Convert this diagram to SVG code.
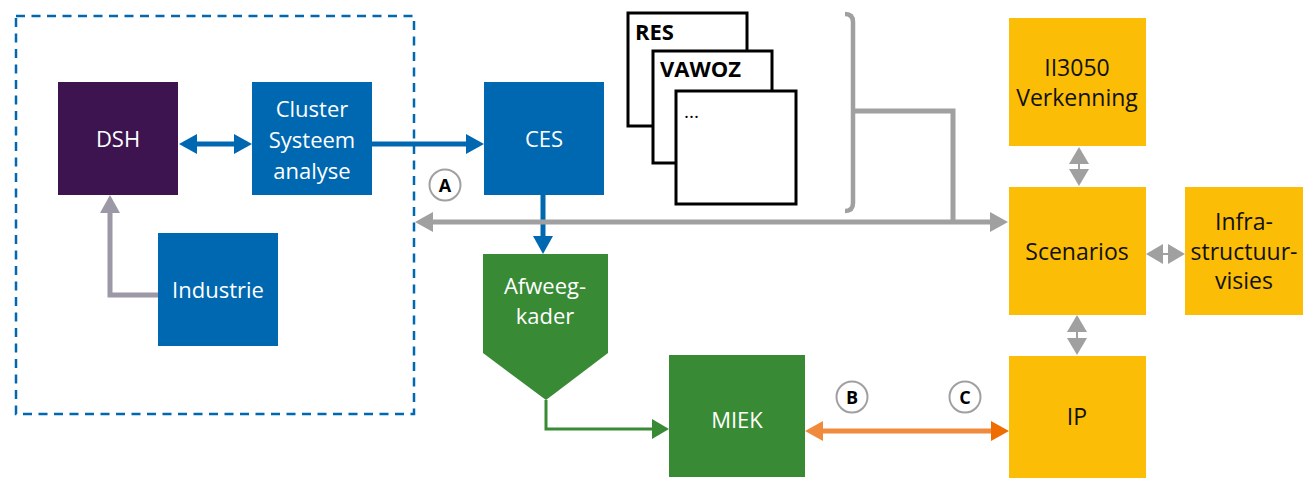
<svg xmlns="http://www.w3.org/2000/svg" width="1303" height="478" viewBox="0 0 1303 478">
<style>
.lbl{font-family:"Open Sans","Noto Sans","Liberation Sans",sans-serif;font-size:22px;text-anchor:middle}
.w{fill:#ffffff}
.k{fill:#111111;font-size:23px}
.doc{fill:#ffffff;stroke:#000000;stroke-width:3}
.doct{font-family:"Open Sans","Noto Sans","Liberation Sans",sans-serif;font-size:22px;font-weight:bold;fill:#000000}
.circ{fill:#ffffff;stroke:#a0a0a0;stroke-width:2}
.ct{font-family:"Open Sans","Noto Sans","Liberation Sans",sans-serif;font-size:18px;font-weight:bold;text-anchor:middle;fill:#000000}
.blue{fill:#0067b1}
.yel{fill:#fbbd05}
</style>
<defs>
<marker id="mBlue" viewBox="0 0 18 20" refX="0" refY="10" markerWidth="18" markerHeight="20" markerUnits="userSpaceOnUse" orient="auto-start-reverse"><path d="M0,0 L18,10 L0,20 z" fill="#0067b1"/></marker>
<marker id="mGray" viewBox="0 0 18 20" refX="0" refY="10" markerWidth="18" markerHeight="20" markerUnits="userSpaceOnUse" orient="auto-start-reverse"><path d="M0,0 L18,10 L0,20 z" fill="#a0a0a0"/></marker>
<marker id="mGraySm" viewBox="0 0 17 20" refX="0" refY="10" markerWidth="17" markerHeight="20" markerUnits="userSpaceOnUse" orient="auto-start-reverse"><path d="M0,0 L17,10 L0,20 z" fill="#a0a0a0"/></marker>
<marker id="mPurp" viewBox="0 0 18 20" refX="0" refY="10" markerWidth="18" markerHeight="20" markerUnits="userSpaceOnUse" orient="auto-start-reverse"><path d="M0,0 L18,10 L0,20 z" fill="#9c98a6"/></marker>
<marker id="mGreen" viewBox="0 0 17 20" refX="0" refY="10" markerWidth="17" markerHeight="20" markerUnits="userSpaceOnUse" orient="auto"><path d="M0,0 L17,10 L0,20 z" fill="#388a34"/></marker>
<marker id="mOrL" viewBox="0 0 18 20" refX="0" refY="10" markerWidth="18" markerHeight="20" markerUnits="userSpaceOnUse" orient="auto-start-reverse"><path d="M0,0 L18,10 L0,20 z" fill="#f08a3c"/></marker>
<marker id="mOrR" viewBox="0 0 18 20" refX="0" refY="10" markerWidth="18" markerHeight="20" markerUnits="userSpaceOnUse" orient="auto"><path d="M0,0 L18,10 L0,20 z" fill="#ef6c00"/></marker>
</defs>

<g id="cluster-boundary">
<rect x="16" y="16" width="398" height="398" fill="none" stroke="#0067b1" stroke-width="2.5" stroke-dasharray="9,6.5"/>
</g>

<g id="connectors" fill="none">
<line x1="197" y1="144" x2="234" y2="144" stroke="#0067b1" stroke-width="5" marker-start="url(#mBlue)" marker-end="url(#mBlue)"/>
<line x1="372" y1="144" x2="466" y2="144" stroke="#0067b1" stroke-width="5" marker-end="url(#mBlue)"/>
<line x1="543" y1="195" x2="543" y2="236" stroke="#0067b1" stroke-width="5" marker-end="url(#mBlue)"/>
<path d="M158,295 H110 V213" stroke="#9c98a6" stroke-width="5" marker-end="url(#mPurp)"/>
<path d="M845,14 Q853,14 853,22 V203 Q853,211 845,211" stroke="#a0a0a0" stroke-width="4.5"/>
<path d="M853,111 H953 V222" stroke="#a0a0a0" stroke-width="5"/>
<line x1="433" y1="222" x2="990" y2="222" stroke="#a0a0a0" stroke-width="5" marker-start="url(#mGray)" marker-end="url(#mGray)"/>
<line x1="1079" y1="164" x2="1079" y2="169" stroke="#a0a0a0" stroke-width="2" marker-start="url(#mGraySm)" marker-end="url(#mGraySm)"/>
<line x1="1077" y1="332" x2="1077" y2="338" stroke="#a0a0a0" stroke-width="2" marker-start="url(#mGraySm)" marker-end="url(#mGraySm)"/>
<line x1="1163" y1="254" x2="1168" y2="254" stroke="#a0a0a0" stroke-width="2" marker-start="url(#mGraySm)" marker-end="url(#mGraySm)"/>
<path d="M546,400 V429 H652" stroke="#388a34" stroke-width="3" marker-end="url(#mGreen)"/>
<line x1="823" y1="431" x2="991" y2="431" stroke="#f08a3c" stroke-width="5" marker-start="url(#mOrL)" marker-end="url(#mOrR)"/>
</g>

<g id="label-A"><circle class="circ" cx="445" cy="185" r="15.5"/><text class="ct" x="445" y="191.5">A</text></g>
<g id="label-B"><circle class="circ" cx="852" cy="397" r="15.5"/><text class="ct" x="852" y="403.5">B</text></g>
<g id="label-C"><circle class="circ" cx="965" cy="397" r="15.5"/><text class="ct" x="965" y="403.5">C</text></g>

<g id="node-dsh"><rect x="58" y="82" width="120" height="113" fill="#3d1450"/><text class="lbl w" x="118" y="147">DSH</text></g>
<g id="node-cluster"><rect class="blue" x="252" y="82" width="120" height="113"/><text class="lbl w" x="312" y="117">Cluster</text><text class="lbl w" x="312" y="148">Systeem</text><text class="lbl w" x="312" y="179">analyse</text></g>
<g id="node-industrie"><rect class="blue" x="158" y="233" width="120" height="113"/><text class="lbl w" x="218" y="298">Industrie</text></g>
<g id="node-ces"><rect class="blue" x="484" y="82" width="120" height="113"/><text class="lbl w" x="544" y="147">CES</text></g>

<g id="node-docs">
<rect class="doc" x="628" y="13" width="119" height="113"/><text class="doct" x="635" y="40">RES</text>
<rect class="doc" x="653" y="51" width="119" height="112"/><text class="doct" x="660" y="77">VAWOZ</text>
<rect class="doc" x="676" y="91" width="120" height="113"/><text class="doct" x="684" y="118" style="font-size:19px;font-weight:normal">...</text>
</g>

<g id="node-afweegkader"><polygon points="483,254 608,254 608,353 546,400 483,353" fill="#388a34"/><text class="lbl w" x="545" y="294">Afweeg-</text><text class="lbl w" x="545" y="324">kader</text></g>
<g id="node-miek"><rect x="669" y="355" width="136" height="122" fill="#388a34"/><text class="lbl w" x="737" y="428">MIEK</text></g>

<g id="node-ii3050"><rect class="yel" x="1009" y="18" width="137" height="128"/><text class="lbl k" x="1077" y="76">II3050</text><text class="lbl k" x="1077" y="106">Verkenning</text></g>
<g id="node-scenarios"><rect class="yel" x="1009" y="187" width="137" height="128"/><text class="lbl k" x="1077" y="260">Scenarios</text></g>
<g id="node-infra"><rect class="yel" x="1185" y="187" width="118" height="128"/><text class="lbl k" x="1244" y="230">Infra-</text><text class="lbl k" x="1244" y="260">structuur-</text><text class="lbl k" x="1244" y="289">visies</text></g>
<g id="node-ip"><rect class="yel" x="1009" y="356" width="137" height="122"/><text class="lbl k" x="1077" y="425">IP</text></g>
</svg>
